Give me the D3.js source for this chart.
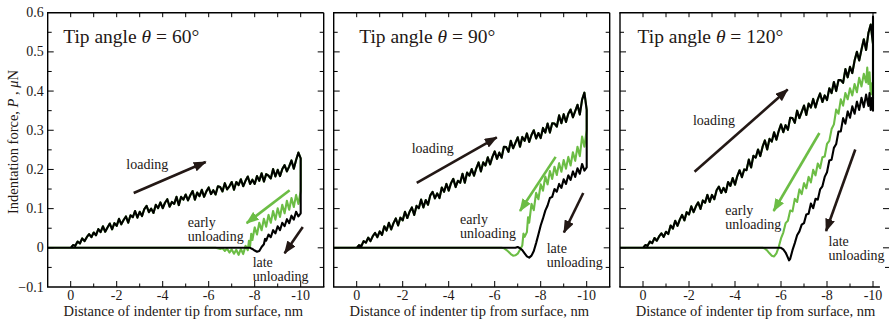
<!DOCTYPE html>
<html>
<head>
<meta charset="utf-8">
<script src="https://cdn.jsdelivr.net/npm/d3@7"></script>
<style>
  body { margin: 0; background: #fff; }
  svg { display: block; font-family: "Liberation Serif", "Times New Roman", serif; }
</style>
</head>
<body>
<svg id="chart"></svg>
<script>
const width = 891;
const height = 327;

// loading curves, sampled every 0.1 nm from 0 to -10 nm (force in uN)
const load60 = [0.000,0.007,0.005,0.016,0.011,0.024,0.017,0.027,0.035,0.027,0.039,0.032,0.048,0.040,0.055,0.041,0.052,0.062,0.047,0.063,
  0.056,0.074,0.060,0.071,0.080,0.064,0.083,0.078,0.094,0.077,0.092,0.081,0.099,0.107,0.091,0.100,0.089,0.110,0.101,0.116,
  0.101,0.115,0.124,0.105,0.117,0.112,0.130,0.109,0.130,0.123,0.136,0.121,0.134,0.145,0.123,0.141,0.132,0.148,0.130,0.144,
  0.154,0.137,0.147,0.136,0.157,0.155,0.144,0.165,0.149,0.157,0.168,0.148,0.168,0.160,0.175,0.157,0.171,0.182,0.163,0.174,
  0.163,0.183,0.171,0.190,0.169,0.188,0.184,0.177,0.201,0.182,0.199,0.183,0.201,0.211,0.195,0.208,0.223,0.202,0.224,0.243,0.228];
const load90 = [0.000,0.007,0.004,0.017,0.013,0.026,0.017,0.030,0.038,0.027,0.042,0.033,0.055,0.044,0.064,0.047,0.063,0.075,0.057,0.077,
  0.070,0.092,0.076,0.092,0.103,0.084,0.107,0.101,0.123,0.103,0.122,0.110,0.134,0.143,0.126,0.139,0.127,0.154,0.143,0.163,
  0.146,0.165,0.176,0.155,0.171,0.166,0.189,0.166,0.192,0.184,0.201,0.184,0.203,0.218,0.195,0.218,0.210,0.231,0.213,0.232,
  0.246,0.227,0.243,0.230,0.258,0.257,0.245,0.273,0.254,0.268,0.282,0.258,0.283,0.273,0.292,0.270,0.288,0.300,0.279,0.293,
  0.280,0.306,0.294,0.317,0.294,0.318,0.317,0.309,0.338,0.318,0.341,0.321,0.342,0.353,0.333,0.349,0.365,0.340,0.378,0.396,0.352];
const load120 = [0.000,0.007,0.005,0.016,0.012,0.025,0.018,0.029,0.037,0.028,0.041,0.035,0.057,0.049,0.069,0.056,0.072,0.084,0.070,0.091,
  0.085,0.106,0.091,0.106,0.116,0.099,0.121,0.115,0.135,0.117,0.135,0.124,0.147,0.156,0.140,0.153,0.142,0.168,0.158,0.178,
  0.161,0.183,0.198,0.180,0.200,0.198,0.225,0.205,0.235,0.230,0.251,0.234,0.258,0.274,0.251,0.278,0.271,0.295,0.276,0.298,
  0.315,0.295,0.313,0.301,0.332,0.331,0.319,0.350,0.331,0.347,0.363,0.339,0.368,0.358,0.380,0.358,0.379,0.394,0.372,0.389,
  0.377,0.407,0.395,0.423,0.400,0.428,0.428,0.421,0.456,0.435,0.462,0.446,0.478,0.500,0.478,0.506,0.532,0.505,0.548,0.570,0.520];

// unloading curves [depth nm, force uN]
const early60 = [[-10,0.145],[-9.9,0.112],[-9.8,0.135],[-9.7,0.104],[-9.6,0.127],[-9.5,0.097],[-9.4,0.120],[-9.3,0.088],[-9.2,0.110],
  [-9.1,0.079],[-9.0,0.101],[-8.9,0.072],[-8.8,0.094],[-8.7,0.064],[-8.6,0.084],[-8.5,0.054],[-8.4,0.074],[-8.3,0.045],[-8.2,0.064],
  [-8.1,0.034],[-8.0,0.052],[-7.9,0.020],[-7.85,0.036],[-7.8,0.004],[-7.75,0.018],[-7.7,-0.006],[-7.6,0.005],[-7.5,-0.016],[-7.4,-0.003],
  [-7.3,-0.018],[-7.2,-0.005],[-7.1,-0.015],[-7.0,-0.004],[-6.9,-0.012],[-6.8,-0.002],[-6.7,-0.008],[-6.6,-0.001],[-6.5,-0.003],[-6.3,0],[1,0]];
const late60 = [[-10,0.088],[-9.9,0.080],[-9.8,0.092],[-9.7,0.072],[-9.6,0.082],[-9.5,0.063],[-9.4,0.073],[-9.3,0.055],[-9.2,0.064],
  [-9.1,0.045],[-9.0,0.055],[-8.9,0.037],[-8.8,0.045],[-8.7,0.027],[-8.6,0.034],[-8.5,0.018],[-8.45,0.023],[-8.4,0.009],[-8.3,0.002],
  [-8.2,-0.008],[-8.1,-0.010],[-8.0,-0.007],[-7.9,-0.003],[-7.8,0],[1,0]];
const early90 = [[-10,0.300],[-9.9,0.258],[-9.8,0.284],[-9.7,0.234],[-9.6,0.258],[-9.5,0.222],[-9.4,0.244],[-9.3,0.210],[-9.2,0.232],
  [-9.1,0.202],[-9.0,0.224],[-8.9,0.194],[-8.8,0.216],[-8.7,0.186],[-8.6,0.207],[-8.5,0.176],[-8.4,0.196],[-8.3,0.162],[-8.2,0.182],
  [-8.1,0.146],[-8.0,0.162],[-7.9,0.124],[-7.8,0.140],[-7.7,0.096],[-7.6,0.112],[-7.5,0.064],[-7.45,0.078],[-7.4,0.040],[-7.3,0.028],
  [-7.25,0.036],[-7.2,0.006],[-7.1,-0.005],[-7.0,-0.015],[-6.9,-0.019],[-6.8,-0.020],[-6.7,-0.016],[-6.6,-0.010],[-6.5,-0.005],[-6.4,-0.001],[-6.3,0],[1,0]];
const late90 = [[-10,0.205],[-9.9,0.197],[-9.8,0.214],[-9.7,0.189],[-9.6,0.203],[-9.5,0.181],[-9.4,0.195],[-9.3,0.173],[-9.2,0.185],
  [-9.1,0.163],[-9.0,0.175],[-8.9,0.153],[-8.8,0.163],[-8.7,0.143],[-8.6,0.150],[-8.5,0.130],[-8.4,0.127],[-8.3,0.108],[-8.2,0.095],
  [-8.1,0.075],[-8.0,0.057],[-7.9,0.034],[-7.8,0.012],[-7.7,-0.008],[-7.6,-0.020],[-7.5,-0.025],[-7.4,-0.022],[-7.3,-0.014],[-7.2,-0.006],
  [-7.1,-0.001],[-7.0,0.002],[-6.9,0],[1,0]];
const early120 = [[-10,0.380],[-9.95,0.420],[-9.9,0.392],[-9.85,0.448],[-9.8,0.418],[-9.75,0.460],[-9.7,0.422],[-9.6,0.444],[-9.5,0.412],
  [-9.4,0.434],[-9.3,0.397],[-9.2,0.418],[-9.1,0.389],[-9.0,0.407],[-8.9,0.379],[-8.8,0.395],[-8.7,0.363],[-8.6,0.379],[-8.5,0.342],
  [-8.4,0.353],[-8.3,0.315],[-8.2,0.303],[-8.1,0.273],[-8.0,0.265],[-7.9,0.233],[-7.8,0.231],[-7.7,0.203],[-7.6,0.215],[-7.5,0.185],
  [-7.4,0.199],[-7.3,0.167],[-7.2,0.181],[-7.1,0.152],[-7.0,0.165],[-6.9,0.137],[-6.8,0.149],[-6.7,0.117],[-6.6,0.125],[-6.5,0.093],
  [-6.4,0.095],[-6.3,0.069],[-6.2,0.063],[-6.1,0.039],[-6.0,0.024],[-5.9,0.002],[-5.8,-0.014],[-5.7,-0.022],[-5.6,-0.020],[-5.5,-0.014],
  [-5.4,-0.007],[-5.3,-0.002],[-5.2,0],[1,0]];
const late120 = [[-10,0.590],[-10,0.350],[-9.95,0.382],[-9.9,0.352],[-9.85,0.395],[-9.8,0.362],[-9.7,0.391],[-9.6,0.359],[-9.5,0.383],
  [-9.4,0.352],[-9.3,0.373],[-9.2,0.342],[-9.1,0.361],[-9.0,0.332],[-8.9,0.348],[-8.8,0.317],[-8.7,0.331],[-8.6,0.297],[-8.5,0.297],
  [-8.4,0.265],[-8.3,0.255],[-8.2,0.225],[-8.1,0.223],[-8.0,0.193],[-7.9,0.181],[-7.8,0.157],[-7.7,0.149],[-7.6,0.123],[-7.5,0.125],
  [-7.4,0.101],[-7.3,0.113],[-7.2,0.087],[-7.1,0.085],[-7.0,0.063],[-6.9,0.059],[-6.8,0.042],[-6.7,0.032],[-6.6,0.012],[-6.5,-0.006],
  [-6.4,-0.028],[-6.35,-0.032],[-6.3,-0.025],[-6.2,-0.012],[-6.1,-0.004],[-6.0,0],[1,0]];

const angles = [60, 90, 120];
const xTicks = [0, -2, -4, -6, -8, -10];
const yTicks = [-0.1, 0, 0.1, 0.2, 0.3, 0.4, 0.5, 0.6];

// arrows [x1, y1, x2, y2] in data units, tail -> head
const loadArrows = [[-2.74,0.140,-5.87,0.219],[-2.61,0.166,-6.09,0.282],[-2.24,0.194,-6.29,0.404]];
const earlyArrows = [[-9.52,0.147,-7.65,0.063],[-8.65,0.232,-7.10,0.094],[-7.67,0.293,-5.68,0.094]];
const lateArrows = [[-10.09,0.053,-9.30,-0.014],[-9.85,0.140,-9.01,0.039],[-9.23,0.251,-7.96,0.043]];
// label anchors [x, y] in data units
const loadLabels = [[-2.42,0.213],[-2.39,0.254],[-2.17,0.326]];
const earlyLabels = [[-5.09,0.066],[-4.49,0.074],[-3.58,0.097]];
const lateLabels = [[-7.91,-0.036],[-8.26,0.000],[-8.07,0.018]];

const black = "#000";
const green = "#6cbd45";
const arrowDark = "#231815";

const panelLeft = [47.7, 333.7, 620];
const titleOffset = [15.5, 25.5, 17.5];
const plotTop = 12.7, plotBottom = 287;

const svg = d3.select("#chart").attr("width", width).attr("height", height);

const defs = svg.append("defs");
[["headDark", arrowDark], ["headGreen", green]].forEach(([id, c]) => {
  defs.append("marker")
    .attr("id", id)
    .attr("markerUnits", "userSpaceOnUse")
    .attr("viewBox", "0 0 13 10")
    .attr("refX", 12).attr("refY", 5)
    .attr("markerWidth", 13).attr("markerHeight", 10)
    .attr("orient", "auto")
    .append("path")
    .attr("d", "M0,0 L13,5 L0,10 Z")
    .attr("fill", c);
});

const y = d3.scaleLinear().domain([-0.1, 0.6]).range([plotBottom, plotTop]);

const panels = angles.map((a, i) => ({
  angle: a,
  load: [load60, load90, load120][i],
  early: [early60, early90, early120][i],
  late: [late60, late90, late120][i]
}));

panels.forEach(function(p, i) {
  const x = d3.scaleLinear().domain([1, -11]).range([panelLeft[i], panelLeft[i] + 276]);
  const g = svg.append("g");
  const right = Math.min(x(-11), width - 2);

  defs.append("clipPath").attr("id", "clip" + i)
    .append("rect").attr("x", x(1)).attr("y", plotTop).attr("width", right - x(1)).attr("height", plotBottom - plotTop);

  const loadPts = p.load.map((v, k) => [-k / 10, v]);
  const line = d3.line().x(d => x(d[0])).y(d => y(d[1]));

  const curves = g.append("g").attr("clip-path", `url(#clip${i})`);
  curves.append("path")
    .attr("d", line([[1, 0], ...loadPts, ...p.early]))
    .attr("fill", "none").attr("stroke", green).attr("stroke-width", 2.1).attr("stroke-linejoin", "round");
  curves.append("path")
    .attr("d", line([[1, 0], ...loadPts, ...p.late]))
    .attr("fill", "none").attr("stroke", black).attr("stroke-width", 2.1).attr("stroke-linejoin", "round");

  // arrows
  const arrows = [[loadArrows[i], arrowDark, "headDark"], [earlyArrows[i], green, "headGreen"], [lateArrows[i], arrowDark, "headDark"]];
  arrows.forEach(([a, c, m]) => {
    g.append("line")
      .attr("x1", x(a[0])).attr("y1", y(a[1]))
      .attr("x2", x(a[2])).attr("y2", y(a[3]))
      .attr("stroke", c).attr("stroke-width", 2.6)
      .attr("marker-end", `url(#${m})`);
  });

  // annotations
  const note = (pos, lines) => {
    const t = g.append("text")
      .attr("x", x(pos[0])).attr("y", y(pos[1]))
      .attr("font-size", 14).attr("fill", "#231815")
      .attr("dominant-baseline", "central");
    lines.forEach((s, k) => t.append("tspan").attr("x", x(pos[0])).attr("dy", k === 0 ? 0 : 14.5).text(s));
  };
  note(loadLabels[i], ["loading"]);
  note(earlyLabels[i], ["early", "unloading"]);
  note(lateLabels[i], ["late", "unloading"]);

  // title
  const title = g.append("text")
    .attr("x", x(1) + titleOffset[i]).attr("y", 43)
    .attr("font-size", 19.5).attr("fill", "#231815");
  title.append("tspan").text("Tip angle ");
  title.append("tspan").attr("font-style", "italic").text("θ");
  title.append("tspan").text(` = ${p.angle}°`);

  // frame
  const frame = g.append("g").attr("stroke", "#000").attr("fill", "none");
  const edge = i === 2 ? x(-10.15) : x(-11);
  frame.append("line").attr("x1", x(1)).attr("x2", x(1)).attr("y1", plotTop).attr("y2", plotBottom).attr("stroke-width", 1.4);
  frame.append("line").attr("x1", x(1) - 0.7).attr("x2", edge).attr("y1", plotTop).attr("y2", plotTop).attr("stroke-width", 1.4);
  frame.append("line").attr("x1", x(1) - 0.7).attr("x2", i === 2 ? x(-10.3) : edge + 0.7).attr("y1", plotBottom).attr("y2", plotBottom).attr("stroke-width", 1.4);
  if (i !== 2) {
    frame.append("line").attr("x1", right).attr("x2", right).attr("y1", plotTop).attr("y2", plotBottom).attr("stroke-width", 1.4);
  }

  // x ticks (inward, every 1 nm)
  d3.range(0, -11, -1).forEach(v => {
    const major = v % 2 === 0;
    frame.append("line").attr("x1", x(v)).attr("x2", x(v)).attr("y1", plotBottom).attr("y2", plotBottom - (major ? 6 : 3.5)).attr("stroke-width", 1);
    frame.append("line").attr("x1", x(v)).attr("x2", x(v)).attr("y1", plotTop).attr("y2", plotTop + 4.5).attr("stroke-width", 1);
  });
  // y ticks (inward, every 0.05)
  d3.range(-0.05, 0.6, 0.05).forEach(v => {
    const major = Math.abs(Math.round(v * 20) % 2) === 0;
    const len = major ? 6 : 4;
    frame.append("line").attr("x1", x(1)).attr("x2", x(1) + len).attr("y1", y(v)).attr("y2", y(v)).attr("stroke-width", 1);
    frame.append("line").attr("x1", right).attr("x2", right - len).attr("y1", y(v)).attr("y2", y(v)).attr("stroke-width", 1);
  });

  // x tick labels
  g.selectAll(null).data(xTicks).enter().append("text")
    .attr("x", d => x(d)).attr("y", 300)
    .attr("text-anchor", "middle").attr("font-size", 14).attr("fill", "#231815")
    .text(d => d === 0 ? "0" : "-" + Math.abs(d));

  g.append("text")
    .attr("x", (x(1) + x(-11)) / 2 - 2.5).attr("y", 316)
    .attr("text-anchor", "middle").attr("font-size", 14.5).attr("fill", "#231815")
    .text("Distance of indenter tip from surface, nm");

  if (i === 0) {
    g.selectAll(null).data(yTicks).enter().append("text")
      .attr("x", x(1) - 4).attr("y", d => y(d))
      .attr("text-anchor", "end").attr("dominant-baseline", "central")
      .attr("font-size", 14).attr("fill", "#231815")
      .text(d => d === 0 ? "0" : d3.format(".1f")(d));

    const yt = g.append("text")
      .attr("transform", `translate(18,${142}) rotate(-90)`)
      .attr("text-anchor", "middle").attr("font-size", 14.5).attr("fill", "#231815");
    yt.append("tspan").text("Indentation force,  ");
    yt.append("tspan").attr("font-style", "italic").text("P");
    yt.append("tspan").text(" ,  ");
    yt.append("tspan").attr("font-style", "italic").text("μ");
    yt.append("tspan").text("N");
  }
});
</script>
</body>
</html>
